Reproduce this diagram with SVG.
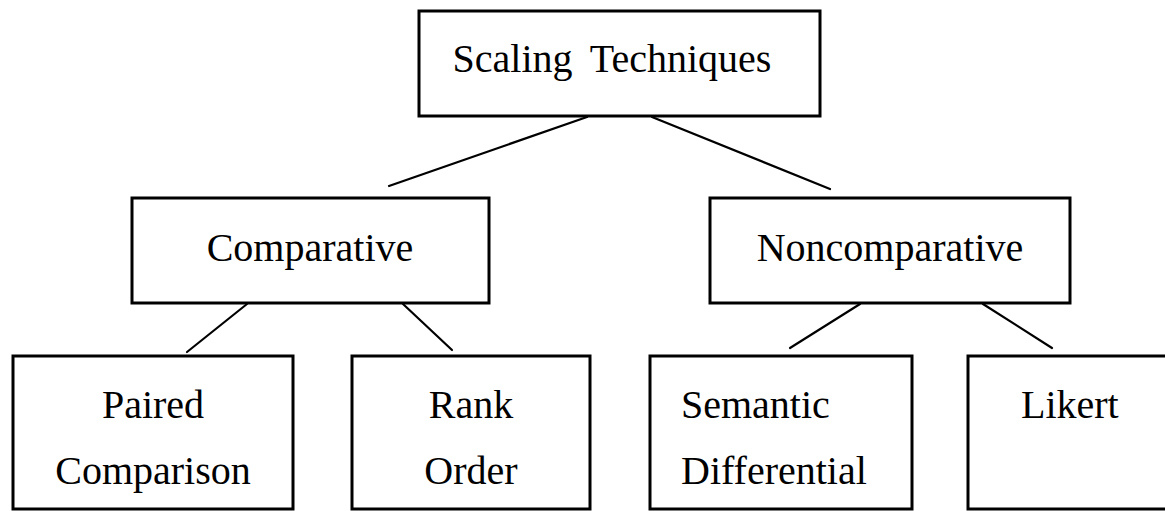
<svg xmlns="http://www.w3.org/2000/svg" width="1165" height="511" viewBox="0 0 1165 511">
  <style>
    .box { fill: #ffffff; stroke: #000000; stroke-width: 3; }
    .link { stroke: #000000; stroke-width: 2.2; fill: none; stroke-linecap: round; }
    .label { font-family: "Liberation Serif", "Times New Roman", serif; font-size: 40px; fill: #000000; }
    .mid { text-anchor: middle; }
  </style>
  <rect x="0" y="0" width="1165" height="511" fill="#ffffff"/>

  <g id="connectors">
    <line class="link" x1="587" y1="117" x2="389" y2="186"/>
    <line class="link" x1="652" y1="117" x2="830" y2="189"/>
    <line class="link" x1="247" y1="304" x2="187" y2="352"/>
    <line class="link" x1="403" y1="304" x2="452" y2="350"/>
    <line class="link" x1="860" y1="304" x2="790" y2="348"/>
    <line class="link" x1="983" y1="304" x2="1052" y2="348"/>
  </g>

  <g id="scaling-techniques">
    <rect class="box" x="419" y="11" width="401" height="105"/>
    <text class="label mid" x="612" y="72" word-spacing="8">Scaling Techniques</text>
  </g>

  <g id="comparative">
    <rect class="box" x="132" y="198" width="357" height="105"/>
    <text class="label mid" x="310" y="261">Comparative</text>
  </g>

  <g id="noncomparative">
    <rect class="box" x="710" y="198" width="360" height="105"/>
    <text class="label mid" x="890" y="261">Noncomparative</text>
  </g>

  <g id="paired-comparison">
    <rect class="box" x="13" y="356" width="280" height="153"/>
    <text class="label mid" x="153" y="418">Paired</text>
    <text class="label mid" x="153" y="484">Comparison</text>
  </g>

  <g id="rank-order">
    <rect class="box" x="352" y="356" width="238" height="153"/>
    <text class="label mid" x="471" y="418">Rank</text>
    <text class="label mid" x="471" y="484">Order</text>
  </g>

  <g id="semantic-differential">
    <rect class="box" x="650" y="356" width="262" height="153"/>
    <text class="label" x="681" y="418">Semantic</text>
    <text class="label" x="681" y="484">Differential</text>
  </g>

  <g id="likert">
    <rect class="box" x="968" y="356" width="210" height="153"/>
    <text class="label" x="1021" y="418">Likert</text>
  </g>
</svg>
